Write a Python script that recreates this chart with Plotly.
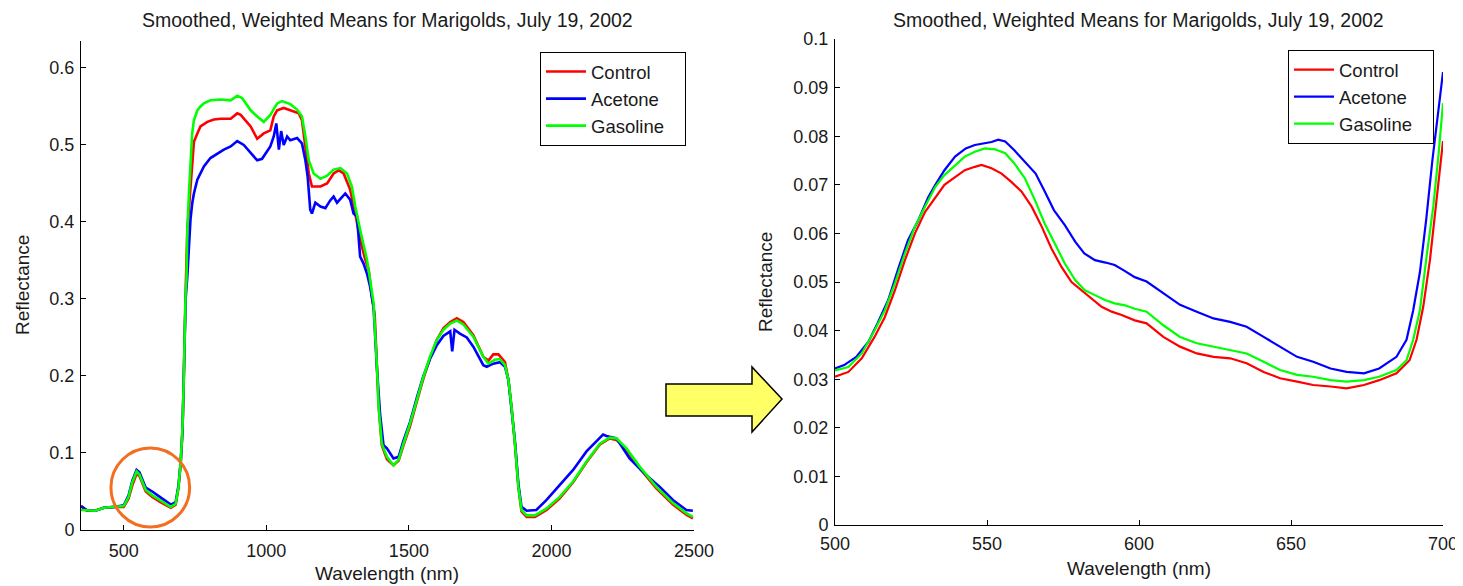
import plotly.graph_objects as go

# ---------------- data: full spectrum (left panel) ----------------
wl_ctrl = [350, 370, 400, 430, 470, 500, 517, 530, 545, 555, 577, 600, 630, 665, 682, 692, 700, 706, 710, 713, 717,
           723, 729, 734, 740, 746, 758, 769, 793, 816, 840, 875, 898, 910, 945, 968, 991, 1014, 1026, 1038, 1061,
           1084, 1114, 1125, 1137, 1149, 1160, 1190, 1213, 1236, 1254, 1271, 1294, 1312, 1329, 1347, 1359, 1370,
           1380, 1388, 1394, 1405, 1423, 1446, 1464, 1481, 1504, 1528, 1551, 1574, 1598, 1621, 1645, 1668, 1691,
           1726, 1761, 1779, 1796, 1814, 1837, 1849, 1860, 1872, 1884, 1895, 1913, 1942, 1983, 2029, 2076, 2123,
           2170, 2204, 2228, 2263, 2310, 2368, 2426, 2473, 2496]
rf_ctrl = [0.031, 0.025, 0.025, 0.029, 0.030, 0.030, 0.041, 0.058, 0.073, 0.070, 0.050, 0.043, 0.036, 0.029, 0.033,
           0.055, 0.088, 0.130, 0.190, 0.260, 0.310, 0.390, 0.420, 0.437, 0.472, 0.504, 0.515, 0.524, 0.530, 0.533,
           0.534, 0.534, 0.541, 0.539, 0.524, 0.508, 0.515, 0.519, 0.537, 0.545, 0.548, 0.545, 0.541, 0.532, 0.498,
           0.463, 0.446, 0.446, 0.450, 0.463, 0.467, 0.463, 0.442, 0.411, 0.377, 0.351, 0.338, 0.303, 0.280, 0.212,
           0.160, 0.110, 0.092, 0.084, 0.090, 0.110, 0.135, 0.167, 0.197, 0.223, 0.247, 0.262, 0.270, 0.275, 0.270,
           0.253, 0.225, 0.220, 0.228, 0.228, 0.218, 0.195, 0.160, 0.112, 0.056, 0.024, 0.017, 0.017, 0.026, 0.041,
           0.062, 0.088, 0.111, 0.119, 0.117, 0.104, 0.080, 0.054, 0.033, 0.020, 0.015]

wl_acet = [350, 370, 400, 430, 470, 500, 517, 530, 545, 555, 577, 600, 630, 665, 682, 692, 700, 706, 710, 713, 717,
           723, 729, 734, 740, 746, 758, 769, 781, 804, 828, 851, 875, 898, 921, 945, 968, 985, 1003, 1014, 1026,
           1035, 1044, 1052, 1061, 1073, 1084, 1108, 1125, 1137, 1145, 1154, 1160, 1172, 1190, 1207, 1224, 1236,
           1248, 1260, 1277, 1294, 1306, 1318, 1329, 1341, 1353, 1364, 1376, 1388, 1399, 1411, 1423, 1446, 1464,
           1481, 1504, 1528, 1551, 1574, 1598, 1621, 1633, 1645, 1652, 1660, 1679, 1703, 1726, 1761, 1773, 1796,
           1819, 1837, 1849, 1860, 1872, 1884, 1895, 1913, 1947, 1983, 2029, 2076, 2123, 2181, 2193, 2228, 2274,
           2333, 2380, 2426, 2473, 2496]
rf_acet = [0.031, 0.026, 0.025, 0.029, 0.030, 0.032, 0.045, 0.064, 0.078, 0.075, 0.055, 0.050, 0.042, 0.033, 0.036,
           0.058, 0.090, 0.130, 0.190, 0.250, 0.300, 0.330, 0.368, 0.403, 0.424, 0.437, 0.455, 0.463, 0.472, 0.483,
           0.489, 0.494, 0.498, 0.505, 0.500, 0.489, 0.480, 0.482, 0.491, 0.498, 0.511, 0.528, 0.494, 0.518, 0.500,
           0.511, 0.506, 0.509, 0.502, 0.480, 0.459, 0.416, 0.411, 0.425, 0.420, 0.418, 0.428, 0.433, 0.425, 0.430,
           0.437, 0.429, 0.411, 0.407, 0.355, 0.346, 0.333, 0.316, 0.290, 0.210, 0.150, 0.110, 0.106, 0.093, 0.095,
           0.116, 0.140, 0.172, 0.200, 0.222, 0.240, 0.252, 0.255, 0.258, 0.232, 0.260, 0.255, 0.250, 0.238, 0.214,
           0.212, 0.216, 0.218, 0.212, 0.195, 0.160, 0.115, 0.060, 0.030, 0.025, 0.026, 0.039, 0.059, 0.078, 0.102,
           0.124, 0.122, 0.119, 0.093, 0.071, 0.056, 0.039, 0.026, 0.025]

wl_gas = [350, 400, 430, 470, 500, 517, 530, 545, 555, 577, 600, 630, 665, 682, 692, 700, 706, 710, 713, 717, 720,
          723, 729, 740, 746, 758, 769, 781, 804, 840, 875, 898, 915, 945, 968, 991, 1014, 1038, 1055, 1084, 1108,
          1125, 1137, 1149, 1166, 1190, 1213, 1236, 1260, 1283, 1300, 1312, 1329, 1341, 1353, 1364, 1376, 1388,
          1394, 1405, 1423, 1446, 1464, 1481, 1504, 1528, 1551, 1574, 1598, 1621, 1645, 1668, 1691, 1726, 1761,
          1779, 1802, 1819, 1837, 1849, 1860, 1872, 1884, 1895, 1913, 1942, 1983, 2029, 2076, 2123, 2170, 2204,
          2228, 2263, 2310, 2368, 2426, 2473, 2496]
rf_gas = [0.026, 0.025, 0.029, 0.030, 0.031, 0.043, 0.062, 0.076, 0.072, 0.052, 0.045, 0.038, 0.030, 0.034, 0.056,
          0.090, 0.134, 0.190, 0.260, 0.310, 0.325, 0.390, 0.440, 0.515, 0.532, 0.545, 0.550, 0.554, 0.558, 0.559,
          0.558, 0.564, 0.561, 0.545, 0.537, 0.530, 0.539, 0.554, 0.557, 0.553, 0.546, 0.537, 0.511, 0.480, 0.463,
          0.456, 0.460, 0.468, 0.470, 0.463, 0.446, 0.420, 0.390, 0.372, 0.351, 0.325, 0.295, 0.212, 0.160, 0.112,
          0.095, 0.084, 0.091, 0.112, 0.138, 0.169, 0.199, 0.225, 0.247, 0.260, 0.268, 0.272, 0.267, 0.251, 0.225,
          0.216, 0.221, 0.222, 0.214, 0.195, 0.160, 0.112, 0.056, 0.026, 0.019, 0.019, 0.028, 0.043, 0.063, 0.089,
          0.112, 0.120, 0.119, 0.106, 0.082, 0.056, 0.035, 0.022, 0.017]

# ---------------- data: zoomed 500-700 nm (right panel) ----------------
zwl_ctrl = [500, 504.4, 508.8, 513, 516.4, 519.7, 523, 526.3, 529.6, 533, 536, 539.5, 542.7, 546, 548.2, 551.5,
            554.8, 558, 561.4, 564.7, 568, 571.2, 574.5, 577.8, 581, 584.4, 587.7, 591, 594.3, 598.6, 602.5, 608,
            613.5, 619, 624.5, 630, 635.4, 641, 646.4, 652, 657.3, 663, 668.3, 674, 679, 684.7, 689, 691.3, 693.5,
            695.7, 697.9, 700]
zrf_ctrl = [0.0305, 0.0315, 0.0343, 0.0387, 0.0428, 0.0483, 0.0545, 0.0600, 0.0644, 0.0675, 0.0700, 0.0716, 0.0730,
            0.0737, 0.0741, 0.0734, 0.0723, 0.0706, 0.0686, 0.0655, 0.0614, 0.0569, 0.0531, 0.0500, 0.0483, 0.0466,
            0.0449, 0.0439, 0.0432, 0.0421, 0.0415, 0.0387, 0.0367, 0.0353, 0.0346, 0.0343, 0.0333, 0.0315, 0.0302,
            0.0295, 0.0288, 0.0285, 0.0281, 0.0288, 0.0298, 0.0312, 0.0339, 0.0381, 0.0449, 0.0545, 0.0669, 0.0790]

zwl_acet = [500, 503, 507, 511, 514, 517.5, 521, 524, 527.4, 530.7, 533, 536, 539.5, 543, 546, 549.3, 551.5, 553.7,
            556, 559, 562.5, 566, 569, 572, 575.6, 579, 582, 585.5, 589, 592, 595, 598.6, 602.5, 608, 613.5, 619,
            624.5, 630, 635.4, 641, 646.4, 652, 657.3, 663, 668.3, 674, 679, 684.7, 688, 690.2, 692.4, 694.5, 696.5,
            698.5, 700]
zrf_acet = [0.0322, 0.0329, 0.0346, 0.0377, 0.0415, 0.0463, 0.0531, 0.0586, 0.0627, 0.0675, 0.0700, 0.0730, 0.0758,
            0.0775, 0.0782, 0.0785, 0.0788, 0.0793, 0.0789, 0.0771, 0.0747, 0.0723, 0.0686, 0.0648, 0.0617, 0.0583,
            0.0559, 0.0545, 0.0540, 0.0535, 0.0524, 0.0510, 0.0501, 0.0477, 0.0453, 0.0439, 0.0425, 0.0418, 0.0408,
            0.0387, 0.0367, 0.0346, 0.0336, 0.0322, 0.0315, 0.0312, 0.0322, 0.0346, 0.0381, 0.0442, 0.0520, 0.0630,
            0.0750, 0.0850, 0.0932]

zwl_gas = [500, 504.4, 508.8, 513, 516.4, 519.7, 523, 526.3, 529.6, 533, 536, 539.5, 542.7, 546, 549.3, 552.6, 556,
           559, 562.5, 565.8, 569, 572.3, 575.6, 579, 582.2, 585.5, 588.8, 592, 595.4, 598.6, 602.5, 608, 613.5, 619,
           624.5, 630, 635.4, 641, 646.4, 652, 657.3, 663, 668.3, 674, 679, 684.7, 688, 690.2, 692.4, 694.6, 696.8,
           698.5, 700]
zrf_gas = [0.0318, 0.0325, 0.0353, 0.0400, 0.0442, 0.0497, 0.0559, 0.0614, 0.0655, 0.0696, 0.0720, 0.0740, 0.0758,
           0.0768, 0.0775, 0.0773, 0.0765, 0.0744, 0.0713, 0.0668, 0.0620, 0.0579, 0.0538, 0.0504, 0.0483, 0.0473,
           0.0463, 0.0456, 0.0452, 0.0445, 0.0439, 0.0411, 0.0387, 0.0374, 0.0367, 0.0360, 0.0353, 0.0336, 0.0319,
           0.0309, 0.0305, 0.0298, 0.0295, 0.0298, 0.0305, 0.0319, 0.0339, 0.0381, 0.0442, 0.0552, 0.0655, 0.0760,
           0.0868]

series_names = ["Control", "Acetone", "Gasoline"]
series_colors = ["#ff0000", "#0000ff", "#00ff00"]
title_text = "Smoothed, Weighted Means for Marigolds, July 19, 2002"
left_yticks = [0, 0.1, 0.2, 0.3, 0.4, 0.5, 0.6]
left_xticks = [500, 1000, 1500, 2000, 2500]
right_yticks = [0, 0.01, 0.02, 0.03, 0.04, 0.05, 0.06, 0.07, 0.08, 0.09, 0.1]
right_ytext = ["0", "0.01", "0.02", "0.03", "0.04", "0.05", "0.06", "0.07", "0.08", "0.09", "0.1"]
right_xticks = [500, 550, 600, 650, 700]

# ---------------- layout geometry ----------------
# the page body has an 8px margin, so the figure is offset by (8, 8) in the window
OFF = 8
W, H = 1463 - OFF, 586 - OFF
FONT = "Liberation Sans, Arial, sans-serif"
TXT = "#1a1a1a"
PAD = "\u00a0\u00a0\u00a0"  # right padding inside legend box (Matlab-style wide legend)

def px(x):
    return (x - OFF) / W

def py(y):
    return 1 - (y - OFF) / H

fig = go.Figure()

left = [(wl_ctrl, rf_ctrl), (wl_acet, rf_acet), (wl_gas, rf_gas)]
right = [(zwl_ctrl, zrf_ctrl), (zwl_acet, zrf_acet), (zwl_gas, zrf_gas)]

for (x, y), n, c in zip(left, series_names, series_colors):
    fig.add_trace(go.Scatter(x=x, y=y, mode="lines", name=n + PAD, line=dict(color=c, width=2.6),
                             xaxis="x", yaxis="y", legend="legend"))
for (x, y), n, c in zip(right, series_names, series_colors):
    fig.add_trace(go.Scatter(x=x, y=y, mode="lines", name=n + PAD, line=dict(color=c, width=2.2),
                             xaxis="x2", yaxis="y2", legend="legend2"))

axis_common = dict(showline=True, linecolor="black", linewidth=1, ticks="inside", ticklen=5,
                   tickcolor="black", tickwidth=1, showgrid=False, zeroline=False, mirror=False,
                   automargin=False, tickfont=dict(family=FONT, size=18, color=TXT))

legend_common = dict(xanchor="right", yanchor="top", bgcolor="white", bordercolor="black", borderwidth=1,
                     font=dict(family=FONT, size=18.5, color=TXT), tracegroupgap=0, itemwidth=40)

fig.update_layout(
    width=W, height=H, margin=dict(l=0, r=0, t=0, b=0, autoexpand=False),
    paper_bgcolor="white", plot_bgcolor="white",
    xaxis=dict(domain=[px(81), px(694)], range=[350, 2500], tickvals=left_xticks, anchor="y",
               ticklabelstandoff=4, **axis_common),
    yaxis=dict(domain=[py(530), py(41)], range=[0, 0.635], tickvals=left_yticks, anchor="x",
               ticklabelstandoff=2, **axis_common),
    xaxis2=dict(domain=[px(835), px(1443)], range=[500, 700], tickvals=right_xticks, anchor="y2",
                ticklabelstandoff=2, **axis_common),
    yaxis2=dict(domain=[py(525), py(39)], range=[0, 0.1], tickvals=right_yticks, ticktext=right_ytext,
                anchor="x2", ticklabelstandoff=2, **axis_common),
    legend=dict(x=px(686), y=py(52), **legend_common),
    legend2=dict(x=px(1434), y=py(50), **legend_common),
    showlegend=True,
)

def ann(text, x, y, size=19, angle=0):
    return dict(text=text, x=px(x), y=py(y), xref="paper", yref="paper", showarrow=False,
                xanchor="center", yanchor="middle", textangle=angle,
                font=dict(family=FONT, size=size, color=TXT))

fig.update_layout(annotations=[
    ann(title_text, 387, 20, 19.5),
    ann(title_text, 1138, 20, 19.5),
    ann("Wavelength (nm)", 387, 573),
    ann("Wavelength (nm)", 1139, 568),
    ann("Reflectance", 22, 285, angle=-90),
    ann("Reflectance", 766, 282, angle=-90),
])

# orange highlight circle (data coords of left panel) and yellow arrow (paper coords)
arrow_pts = [(666, 384), (752, 384), (752, 367), (782, 399), (752, 432), (752, 416), (666, 416)]
arrow_path = "M " + " L ".join(f"{px(a):.5f},{py(b):.5f}" for a, b in arrow_pts) + " Z"
fig.update_layout(shapes=[
    dict(type="circle", xref="x", yref="y", x0=455, x1=731, y0=0.0039, y1=0.1065,
         line=dict(color="#f26f21", width=3)),
    dict(type="path", xref="paper", yref="paper", path=arrow_path, fillcolor="#ffff66",
         line=dict(color="black", width=1.5)),
])

fig.write_html("out.html")
